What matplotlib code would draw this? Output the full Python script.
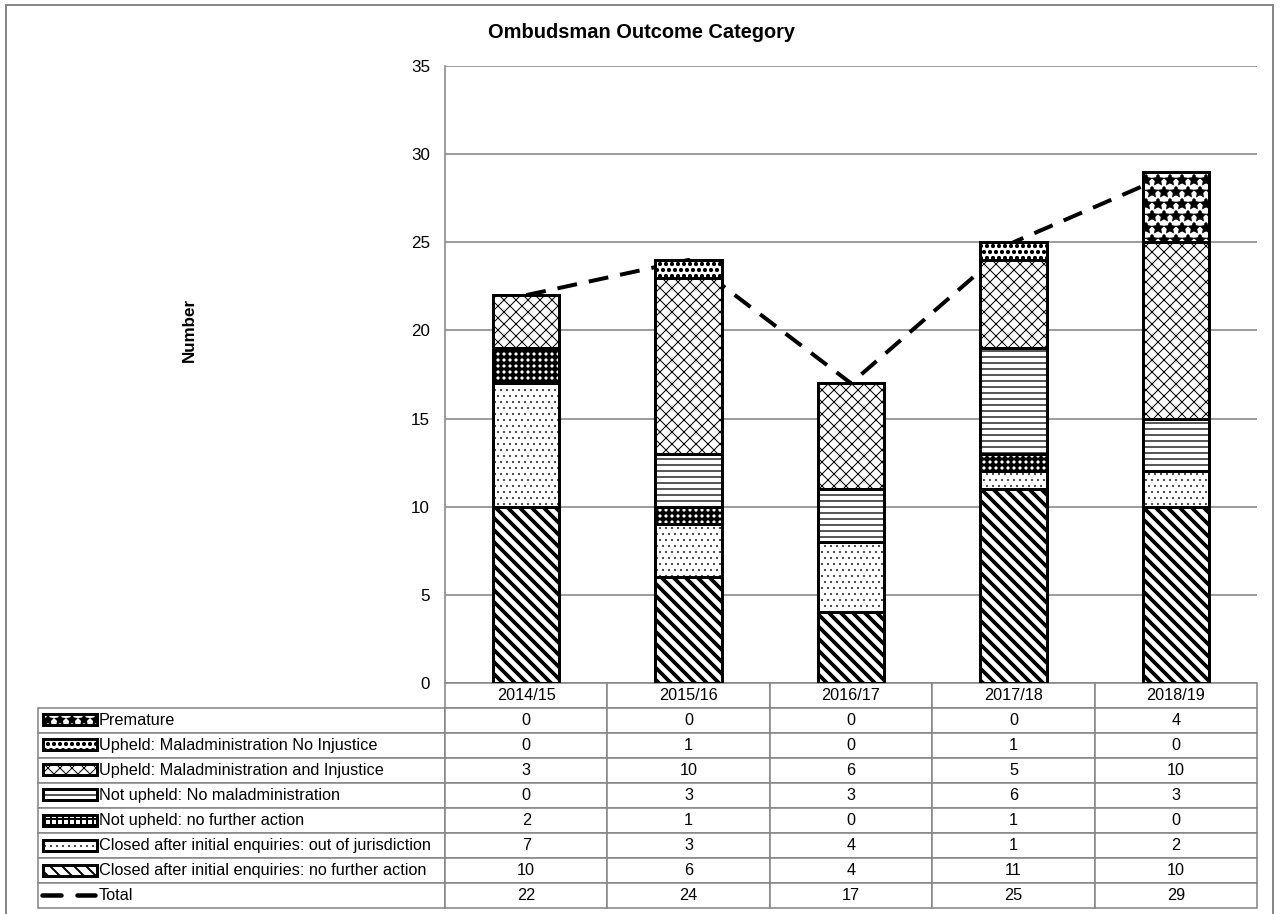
import matplotlib
matplotlib.use('Agg')
import matplotlib.pyplot as plt
from matplotlib.patches import Rectangle
from matplotlib.lines import Line2D
import numpy as np

plt.rcParams['font.family'] = ['Liberation Sans', 'DejaVu Sans']
plt.rcParams['hatch.linewidth'] = 1.5

years = ['2014/15', '2015/16', '2016/17', '2017/18', '2018/19']
closed_nfa = [10, 6, 4, 11, 10]
closed_ooj = [7, 3, 4, 1, 2]
notup_nfa = [2, 1, 0, 1, 0]
notup_nomal = [0, 3, 3, 6, 3]
upheld_mi = [3, 10, 6, 5, 10]
upheld_mni = [0, 1, 0, 1, 0]
premature = [0, 0, 0, 0, 4]
total = [22, 24, 17, 25, 29]

names = ['Closed after initial enquiries: no further action',
         'Closed after initial enquiries: out of jurisdiction',
         'Not upheld: no further action',
         'Not upheld: No maladministration',
         'Upheld: Maladministration and Injustice',
         'Upheld: Maladministration No Injustice',
         'Premature']
series = [closed_nfa, closed_ooj, notup_nfa, notup_nomal, upheld_mi, upheld_mni, premature]
hatches = ['\\\\', '..', '++', '--', 'xx', 'oo', '*']
hatch_lws = [3.8, 0.6, 3.0, 1.3, 1.0, 1.5, 2.5]

W, H = 1280, 914
DPI = 72
fig = plt.figure(figsize=(W / DPI, H / DPI), dpi=DPI)


def fx(px):
    return px / W


def fy(py):
    return 1 - py / H


def set_hlw(patch, lw):
    if hasattr(patch, 'set_hatch_linewidth'):
        patch.set_hatch_linewidth(lw)


ax_l, ax_r, ax_t, ax_b = 445, 1257, 66, 683
ax = fig.add_axes([fx(ax_l), fy(ax_b), (ax_r - ax_l) / W, (ax_b - ax_t) / H])

x = np.arange(len(years))
bottom = np.zeros(len(years))
for vals, h, hl in zip(series, hatches, hatch_lws):
    bars = ax.bar(x, vals, 0.41, bottom=bottom, facecolor='white', edgecolor='black',
                  linewidth=3, hatch=h, zorder=3)
    for b in bars:
        set_hlw(b, hl)
    bottom += np.array(vals)

ax.plot(x, total, color='black', linestyle=(0, (5, 3)), linewidth=4, zorder=2.5)

ax.set_xlim(-0.5, len(years) - 0.5)
ax.set_ylim(0, 35)
ax.set_yticks(range(0, 36, 5))
ax.tick_params(axis='y', length=0, pad=15, labelsize=17)
ax.set_xticks([])
ax.yaxis.grid(True, color='#878787', linewidth=1.6)
ax.set_axisbelow(True)
for s in ['top', 'right', 'bottom']:
    ax.spines[s].set_visible(False)
ax.spines['left'].set_color('#878787')
ax.spines['left'].set_linewidth(1.6)

ax.set_ylabel('Number', fontsize=17, fontweight='bold')
ax.yaxis.set_label_coords((197 - ax_l) / (ax_r - ax_l), (ax_b - 330) / (ax_b - ax_t))

fig.text(641 / W, fy(32), 'Ombudsman Outcome Category', ha='center', va='center',
         fontsize=20, fontweight='bold')

# table
row_names = names[::-1] + ['Total']
row_vals = series[::-1] + [total]
cell_text = [[n] + [str(v) for v in vals] for n, vals in zip(row_names, row_vals)]
tab_l, tab_r, tab_t, tab_b = 38, 1257, 683, 908
axw, axh = ax_r - ax_l, ax_b - ax_t
col_w = [407] + [(ax_r - ax_l) / 5] * 5
tbl = ax.table(cellText=cell_text, colLabels=[''] + years, colWidths=col_w,
               cellLoc='center',
               bbox=[(tab_l - ax_l) / axw, -(tab_b - tab_t) / axh,
                     (tab_r - tab_l) / axw, (tab_b - tab_t) / axh])
tbl.auto_set_font_size(False)
tbl.set_fontsize(16.3)
for (r, c), cell in tbl.get_celld().items():
    cell.set_edgecolor('#878787')
    cell.set_linewidth(1.6)
    if r == 0 and c == 0:
        cell.visible_edges = ''
    if c == 0 and r > 0:
        cell.get_text().set_ha('left')
        cell.PAD = 61 / 407

# legend keys in table
row_h = (tab_b - 707) / 8
for i, (h, hl) in enumerate(zip(hatches[::-1], hatch_lws[::-1])):
    cy = 707 + row_h * (i + 0.5)
    rect = Rectangle((fx(43), fy(cy + 5.5)), 54 / W, 11 / H, transform=fig.transFigure,
                     facecolor='white', edgecolor='black', linewidth=3, hatch=h)
    set_hlw(rect, min(hl, 2.0))
    fig.add_artist(rect)
cy = 707 + row_h * 7.5
fig.add_artist(Line2D([fx(42), fx(61)], [fy(cy), fy(cy)], color='black', linewidth=4.5,
                      solid_capstyle='round', transform=fig.transFigure))
fig.add_artist(Line2D([fx(77), fx(95)], [fy(cy), fy(cy)], color='black', linewidth=4.5,
                      solid_capstyle='round', transform=fig.transFigure))

# figure border
fig.add_artist(Rectangle((fx(6), -0.05), (1273 - 6) / W, 1 - 5 / H + 0.05,
                         transform=fig.transFigure, fill=False, edgecolor='#878787',
                         linewidth=2, clip_on=False))

fig.savefig('out.png', dpi=DPI)
